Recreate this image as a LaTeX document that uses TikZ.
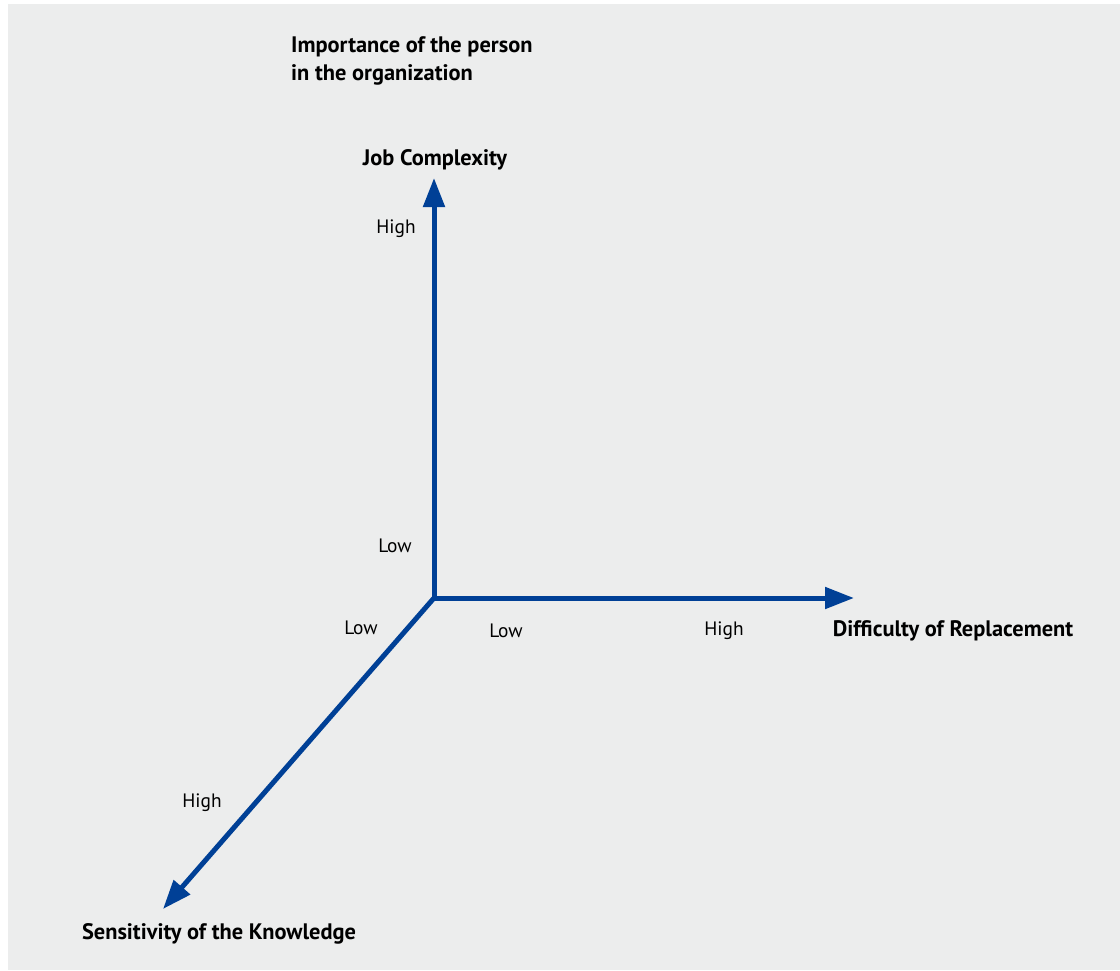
\documentclass[tikz,border=0pt]{standalone}
\usepackage{fontspec}
\setmainfont{PT Sans}
\usetikzlibrary{arrows.meta,positioning}

\begin{document}
\begin{tikzpicture}[x=1pt,y=-1pt]
    % Colours of the chart
    \definecolor{axisblue}{RGB}{0,64,150}
    \definecolor{panelgray}{RGB}{236,237,237}
    \tikzset{
        axis/.style={draw=axisblue, line width=5pt, -{Triangle[length=29pt,width=21pt]}},
        axistitle/.style={font=\fontsize{22.4}{28}\selectfont\bfseries, inner sep=0pt},
        level/.style={font=\fontsize{19.4}{22}\selectfont, inner sep=0pt}
    }

    % Page and grey panel
    \useasboundingbox (0,0) rectangle (1120,970);
    \fill[white] (0,0) rectangle (1120,970);
    \fill[panelgray] (8,4) rectangle (1120,970);

    % Origin and axis ends
    \coordinate (origin) at (434,598);
    \coordinate (upend) at (434,178);
    \coordinate (rightend) at (854,598);
    \coordinate (downend) at (163,909);

    % Axes
    \draw[axis] (origin) -- (upend);
    \draw[axis] (origin) -- (rightend);
    \draw[axis] (origin) -- (downend);

    % Axis titles
    \node[axistitle, anchor=west, align=left] (importance) at (291,61)
        {Importance of the person\\in the organization};
    \node[axistitle] (complexity) at (435,160) {Job Complexity};
    \node[axistitle] (replacement) at (953,631) {Difficulty of Replacement};
    \node[axistitle] (sensitivity) at (219,934) {Sensitivity of the Knowledge};

    % Low and high marks
    \node[level] (uphigh) at (396,229) {High};
    \node[level] (uplow) at (395,546) {Low};
    \node[level] (rightlow) at (506,631) {Low};
    \node[level] (righthigh) at (724,631) {High};
    \node[level] (downlow) at (361,628) {Low};
    \node[level] (downhigh) at (202,803) {High};

\end{tikzpicture}
\end{document}
